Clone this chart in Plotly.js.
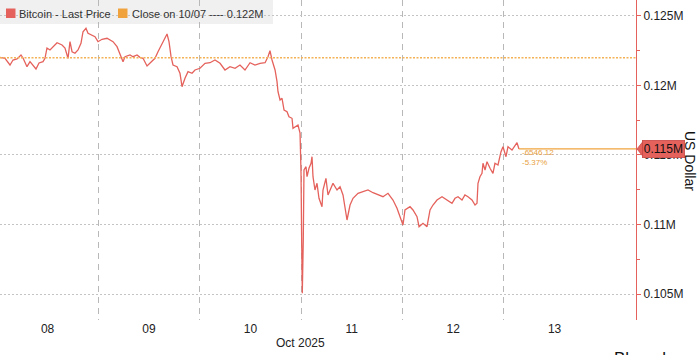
<!DOCTYPE html>
<html>
<head>
<meta charset="utf-8">
<script src="https://cdn.plot.ly/plotly-3.0.1.min.js"></script>
<style>html,body{margin:0;padding:0;background:#fff}#chart{width:700px;height:355px}</style>
</head>
<body>
<div id="chart"></div>
<script>
// ---- data ----
const times = [
'2025-10-08 00:44','2025-10-08 01:55','2025-10-08 03:06','2025-10-08 03:49','2025-10-08 04:46','2025-10-08 05:42','2025-10-08 06:11','2025-10-08 07:07','2025-10-08 07:50','2025-10-08 08:33','2025-10-08 09:15','2025-10-08 09:58','2025-10-08 10:55','2025-10-08 11:23','2025-10-08 11:51','2025-10-08 12:34','2025-10-08 13:17','2025-10-08 14:14','2025-10-08 15:25','2025-10-08 16:07','2025-10-08 16:50','2025-10-08 17:18','2025-10-08 17:47','2025-10-08 18:29','2025-10-08 19:12','2025-10-08 19:54','2025-10-08 20:23','2025-10-08 21:05','2025-10-08 21:34','2025-10-08 22:31','2025-10-08 23:13','2025-10-08 23:56',
'2025-10-09 00:53','2025-10-09 02:04','2025-10-09 02:46','2025-10-09 03:29','2025-10-09 04:26','2025-10-09 05:08','2025-10-09 05:51','2025-10-09 06:19','2025-10-09 07:30','2025-10-09 08:13','2025-10-09 09:10','2025-10-09 09:52','2025-10-09 10:35','2025-10-09 11:32','2025-10-09 12:14','2025-10-09 12:43','2025-10-09 13:25','2025-10-09 14:08','2025-10-09 15:05','2025-10-09 15:47','2025-10-09 16:16','2025-10-09 16:44','2025-10-09 17:13','2025-10-09 17:41','2025-10-09 18:38','2025-10-09 19:20','2025-10-09 19:49','2025-10-09 20:31','2025-10-09 21:14','2025-10-09 22:11','2025-10-09 22:53',
'2025-10-10 00:04','2025-10-10 01:16','2025-10-10 02:26','2025-10-10 03:37','2025-10-10 04:49','2025-10-10 05:59','2025-10-10 07:10','2025-10-10 08:22','2025-10-10 09:32','2025-10-10 10:43','2025-10-10 11:55','2025-10-10 13:05','2025-10-10 14:17','2025-10-10 15:28','2025-10-10 16:10','2025-10-10 16:38','2025-10-10 17:07','2025-10-10 17:50','2025-10-10 18:18','2025-10-10 18:32','2025-10-10 19:01','2025-10-10 19:29','2025-10-10 19:58','2025-10-10 20:40','2025-10-10 21:08','2025-10-10 21:51','2025-10-10 22:05','2025-10-10 22:48','2025-10-10 23:16','2025-10-10 23:45','2025-10-10 23:59',
'2025-10-11 00:08','2025-10-11 00:17','2025-10-11 00:31','2025-10-11 00:34','2025-10-11 00:41','2025-10-11 01:10','2025-10-11 01:24','2025-10-11 01:52','2025-10-11 02:21','2025-10-11 02:35','2025-10-11 02:49','2025-10-11 03:17','2025-10-11 03:46','2025-10-11 04:14','2025-10-11 04:57','2025-10-11 05:11','2025-10-11 05:53','2025-10-11 06:22','2025-10-11 07:05','2025-10-11 07:33','2025-10-11 08:30','2025-10-11 09:13','2025-10-11 09:55','2025-10-11 10:23','2025-10-11 10:52','2025-10-11 11:35','2025-10-11 12:17','2025-10-11 13:28','2025-10-11 14:39','2025-10-11 15:50','2025-10-11 17:01','2025-10-11 18:12','2025-10-11 19:23','2025-10-11 20:34','2025-10-11 21:45','2025-10-11 22:42','2025-10-11 23:25',
'2025-10-12 00:07','2025-10-12 00:35','2025-10-12 01:47','2025-10-12 02:29','2025-10-12 03:26','2025-10-12 03:55','2025-10-12 04:51','2025-10-12 05:48','2025-10-12 06:31','2025-10-12 07:13','2025-10-12 08:10','2025-10-12 09:21','2025-10-12 10:32','2025-10-12 11:43','2025-10-12 12:26','2025-10-12 13:08','2025-10-12 14:05','2025-10-12 14:47','2025-10-12 15:30','2025-10-12 16:27','2025-10-12 17:10','2025-10-12 17:38','2025-10-12 17:52','2025-10-12 18:20','2025-10-12 18:49','2025-10-12 19:03','2025-10-12 19:32','2025-10-12 20:00','2025-10-12 20:43','2025-10-12 21:25','2025-10-12 21:53','2025-10-12 22:36','2025-10-12 23:19','2025-10-12 23:47',
'2025-10-13 00:30','2025-10-13 00:58','2025-10-13 01:55','2025-10-13 02:38','2025-10-13 03:06','2025-10-13 03:34'
];
const prices = [
122010,121941,121460,121819,121891,122178,121963,121338,121697,121460,121173,121604,121697,121941,122681,122537,122774,123061,122896,122681,121941,123133,122415,122300,122537,123018,123851,124095,123736,123614,123492,123133,
123305,123377,123255,123133,122774,122300,121697,122056,122178,122056,122178,122013,121941,121388,121582,121697,121941,122415,123018,123492,123686,123133,122056,121460,121338,120864,119902,120505,120979,120864,121101,
121223,121582,121625,121819,121582,121101,121338,121223,121460,121101,121625,121460,121582,121625,122056,122487,121819,121101,120261,119543,118947,119069,118229,118107,117748,117633,116915,117030,117152,116578,113706,
108895,105068,108895,113203,113921,114158,113440,114043,114402,114876,113440,112485,112966,111889,111286,112485,113325,112126,112607,112966,112485,112722,112126,111049,110331,111408,111889,112248,112363,112485,112291,112126,112004,112248,111767,111171,110568,
109972,111049,111286,111049,110568,109850,110094,109850,111049,111408,111767,112004,111767,111530,111889,112004,111767,112126,112004,111767,111408,111530,112966,113440,113684,114402,113921,114517,114043,113684,114402,114280,115235,115594,
114876,115594,115357,115716,115881,115433.88
];
const closePrice = 121980;          // Close on 10/07
const closeLabel = 'Close on 10/07 ---- 0.122M';
const seriesLabel = 'Bitcoin - Last Price';
const lastLabel = '0.115M';
const yTickVals = [105000, 110000, 115000, 120000, 125000];
const yTickText = ['0.105M', '0.11M', '0.115M', '0.12M', '0.125M'];
const yMinorVals = [107500, 112500, 117500, 122500];
const xTickVals = ['2025-10-08 12:00','2025-10-09 12:00','2025-10-10 12:00','2025-10-11 12:00','2025-10-12 12:00','2025-10-13 12:00'];
const xTickText = ['08','09','10','11','12','13'];
const dayBounds = ['2025-10-09','2025-10-10','2025-10-11','2025-10-12','2025-10-13'];
const xRange = ['2025-10-08 00:44','2025-10-14 07:16'];
const yRange = [103151, 126127];

// ---- derived ----
const lastPrice = prices[prices.length-1];
const lastTime = times[times.length-1];
const chg = lastPrice - closePrice;
const chgText = chg.toFixed(2);
const pctText = (chg / closePrice * 100).toFixed(2) + '%';

const RED = '#e5625c';
const ORANGE = '#f0a33c';
const FONT = 'Liberation Sans, Arial, sans-serif';
const W = 700, H = 355, ML = 0, MR = 64, MT = 0, MB = 35;
const PW = W - ML - MR, PH = H - MT - MB;
const px = v => v / PW;                // pixel -> paper x
const py = v => 1 - v / PH;            // pixel (from top) -> paper y
const lastPy = (lastPrice - yRange[0]) / (yRange[1] - yRange[0]);

const trace = {
  x: times, y: prices, type: 'scatter', mode: 'lines',
  line: {color: RED, width: 1.3}, hoverinfo: 'skip', showlegend: false
};

const layout = {
  width: W, height: H, autosize: false,
  margin: {l: ML, r: MR, t: MT, b: MB, pad: 0},
  paper_bgcolor: '#fff', plot_bgcolor: '#fff',
  font: {family: FONT, size: 12, color: '#222'},
  showlegend: false,
  xaxis: {
    type: 'date', range: xRange, fixedrange: true,
    tickmode: 'array', tickvals: xTickVals, ticktext: xTickText,
    ticks: '', showgrid: false, zeroline: false, showline: false,
    tickfont: {size: 12, color: '#222'},
    minor: {tickmode: 'array', tickvals: dayBounds, showgrid: true, gridcolor: '#b8b8b8', griddash: '6px,5px', gridwidth: 1, ticks: ''}
  },
  yaxis: {
    side: 'right', range: yRange, fixedrange: true,
    tickmode: 'array', tickvals: yTickVals, ticktext: yTickText,
    ticks: 'outside', ticklen: 4, tickcolor: RED, tickwidth: 1,
    showline: true, linecolor: RED, linewidth: 1,
    showgrid: true, gridcolor: '#c4c4c4', griddash: '2px,2px', gridwidth: 1,
    zeroline: false, tickfont: {size: 12, color: '#222'},
    minor: {tickmode: 'array', tickvals: yMinorVals, ticks: 'outside', ticklen: 3, tickcolor: RED, showgrid: false}
  },
  shapes: [
    // legend background
    {type: 'rect', xref: 'paper', yref: 'paper', x0: 0, x1: px(273), y0: py(24), y1: 1,
     fillcolor: '#f0f0f0', line: {width: 0}, layer: 'below'},
    {type: 'rect', xref: 'paper', yref: 'paper', x0: px(6), x1: px(15.5), y0: py(18), y1: py(8.5),
     fillcolor: RED, line: {width: 0}},
    {type: 'rect', xref: 'paper', yref: 'paper', x0: px(118), x1: px(127.5), y0: py(18), y1: py(8.5),
     fillcolor: ORANGE, line: {width: 0}},
    // close on 10/07 dotted line
    {type: 'line', xref: 'paper', yref: 'y', x0: 0, x1: 1, y0: closePrice, y1: closePrice,
     line: {color: '#f4b155', width: 1.6, dash: '2px,1.5px'}},
    // last price line
    {type: 'line', xref: 'x', yref: 'y', x0: lastTime, x1: xRange[1], y0: lastPrice, y1: lastPrice,
     line: {color: ORANGE, width: 1.2}},
    // pointer of last price label
    {type: 'path', xref: 'paper', yref: 'paper',
     path: 'M ' + px(637) + ',' + lastPy + ' L ' + px(643) + ',' + (lastPy + 7.5/PH) + ' L ' + px(643) + ',' + (lastPy - 7.5/PH) + ' Z',
     fillcolor: RED, line: {color: '#c94a45', width: 0.8}}
  ],
  annotations: [
    {xref: 'paper', yref: 'paper', x: px(17), y: py(14), xanchor: 'left', yanchor: 'middle',
     text: seriesLabel, showarrow: false, font: {size: 11, color: '#333'}},
    {xref: 'paper', yref: 'paper', x: px(129.5), y: py(14), xanchor: 'left', yanchor: 'middle',
     text: closeLabel, showarrow: false, font: {size: 11, color: '#333'}},
    {xref: 'paper', yref: 'paper', x: px(642), y: lastPy, xanchor: 'left', yanchor: 'middle',
     text: lastLabel, showarrow: false, bgcolor: RED, bordercolor: '#c94a45', borderwidth: 0.8, borderpad: 1,
     font: {size: 12, color: '#111'}},
    {xref: 'x', yref: 'y', x: lastTime, y: lastPrice, xanchor: 'left', yanchor: 'middle', xshift: 1, yshift: -4,
     text: chgText, showarrow: false, font: {size: 8, color: '#e8a040'}},
    {xref: 'x', yref: 'y', x: lastTime, y: lastPrice, xanchor: 'left', yanchor: 'middle', xshift: 1, yshift: -14,
     text: pctText, showarrow: false, font: {size: 8, color: '#e8a040'}},
    {xref: 'paper', yref: 'paper', x: px(690), y: py(161), xanchor: 'center', yanchor: 'middle',
     text: 'US Dollar', textangle: 90, showarrow: false, font: {size: 14, color: '#111'}},
    {xref: 'paper', yref: 'paper', x: px(300), y: py(343), xanchor: 'center', yanchor: 'middle',
     text: 'Oct 2025', showarrow: false, font: {size: 12, color: '#222'}},
    {xref: 'paper', yref: 'paper', x: px(612), y: py(347), xanchor: 'left', yanchor: 'top',
     text: 'Bloomberg', showarrow: false, font: {size: 17, color: '#111'}}
  ]
};

Plotly.newPlot('chart', [trace], layout, {displayModeBar: false, staticPlot: true});
</script>
</body>
</html>
